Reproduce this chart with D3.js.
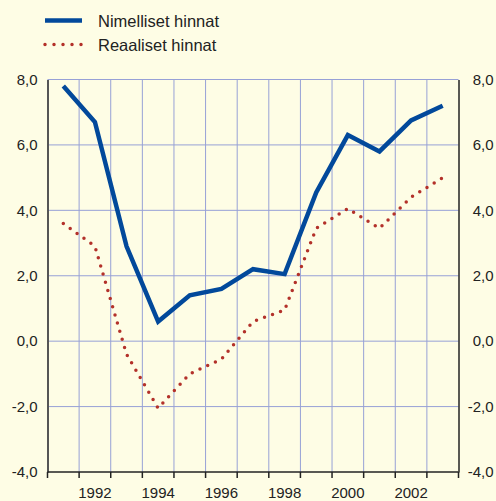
<!DOCTYPE html>
<html>
<head>
<meta charset="utf-8">
<script src="https://cdn.jsdelivr.net/npm/d3@7"></script>
<style>
  html, body { margin: 0; padding: 0; background: #fefde5; }
  svg { display: block; }
  svg text { font-family: 'Liberation Sans', Arial, Helvetica, sans-serif; fill: #222; }
</style>
</head>
<body>
<div id="chart"></div>
<script>
const years = [1991, 1992, 1993, 1994, 1995, 1996, 1997, 1998, 1999, 2000, 2001, 2002, 2003];
const nominal = [7.8, 6.7, 2.9, 0.6, 1.4, 1.6, 2.2, 2.05, 4.55, 6.3, 5.8, 6.75, 7.2];
const real = [3.6, 2.9, -0.4, -2.05, -1.0, -0.55, 0.6, 0.95, 3.45, 4.05, 3.45, 4.4, 5.0];
const yTicks = [-4, -2, 0, 2, 4, 6, 8];
const yearLabels = [1992, 1994, 1996, 1998, 2000, 2002];
const seriesNames = ['Nimelliset hinnat', 'Reaaliset hinnat'];

const props = {
  width: 496,
  height: 501,
  margin: { top: 79.5, right: 37.5, bottom: 29, left: 47.5 },
  blue: '#02499b',
  red: '#b3312a',
  grid: '#97a1d6',
  fontSize: 15,
  font: "'Liberation Sans', Arial, Helvetica, sans-serif",
};

const { margin } = props;
const w = props.width - margin.left - margin.right;
const h = props.height - margin.top - margin.bottom;

const fmt = d => d.toFixed(1).replace('.', ',');

const x = d3.scaleBand().domain(years).range([0, w]).padding(0);
const y = d3.scaleLinear().domain([-4, 8]).range([h, 0]);
const cx = d => x(d) + x.bandwidth() / 2;

const svg = d3.select('#chart')
  .append('svg')
  .attr('width', props.width)
  .attr('height', props.height)
  .attr('font-family', props.font);

svg.append('rect')
  .attr('width', props.width)
  .attr('height', props.height)
  .attr('fill', '#fefde5');

const plot = svg.append('g')
  .attr('transform', `translate(${margin.left},${margin.top})`);

// vertical grid at year boundaries
const bounds = years.slice(1).map(d => x(d));
plot.append('g').attr('class', 'grid x')
  .selectAll('line')
  .data(bounds)
  .join('line')
  .attr('x1', d => d).attr('x2', d => d)
  .attr('y1', 0).attr('y2', h)
  .attr('stroke', props.grid)
  .attr('stroke-width', 1);

// horizontal grid
plot.append('g').attr('class', 'grid y')
  .selectAll('line')
  .data(yTicks.filter(d => d > -4))
  .join('line')
  .attr('x1', 0).attr('x2', w)
  .attr('y1', d => y(d)).attr('y2', d => y(d))
  .attr('stroke', props.grid)
  .attr('stroke-width', 1);

const styleTicks = g => g.selectAll('text')
  .style('font-size', props.fontSize + 'px')
  .style('font-family', props.font)
  .attr('fill', '#222');

// left axis
plot.append('g').attr('class', 'axis left')
  .call(d3.axisLeft(y).tickValues(yTicks).tickFormat(fmt).tickSize(0).tickPadding(10))
  .attr('font-family', props.font)
  .call(g => g.select('.domain').attr('stroke', '#555').attr('stroke-width', 2))
  .call(styleTicks);

// right axis, labels right-aligned near the edge
plot.append('g').attr('class', 'axis right')
  .attr('transform', `translate(${w},0)`)
  .call(d3.axisRight(y).tickValues(yTicks).tickFormat(fmt).tickSize(0).tickPadding(35))
  .attr('font-family', props.font)
  .call(g => g.select('.domain').attr('stroke', '#222').attr('stroke-width', 1.5))
  .call(g => g.selectAll('text').attr('text-anchor', 'end'))
  .call(styleTicks);

// bottom axis: ticks at band edges, labels every other year at band centre
const xEdges = years.map(d => x(d)).concat([w]);
const xAxis = plot.append('g').attr('class', 'axis bottom')
  .attr('transform', `translate(0,${h})`);
xAxis.append('line')
  .attr('x1', 0).attr('x2', w)
  .attr('stroke', '#222').attr('stroke-width', 1.5);
xAxis.selectAll('line.tick')
  .data(xEdges)
  .join('line')
  .attr('class', 'tick')
  .attr('x1', d => d).attr('x2', d => d)
  .attr('y1', 0).attr('y2', 6)
  .attr('stroke', '#222').attr('stroke-width', 1.5);
xAxis.selectAll('text')
  .data(yearLabels)
  .join('text')
  .attr('x', d => cx(d))
  .attr('y', 25.5)
  .attr('text-anchor', 'middle')
  .style('font-size', props.fontSize + 'px')
  .text(d => d);

// lines
const line = d3.line().x((d, i) => cx(years[i])).y(d => y(d));

plot.append('path')
  .datum(real)
  .attr('d', line)
  .attr('fill', 'none')
  .attr('stroke', props.red)
  .attr('stroke-width', 3.5)
  .attr('stroke-linecap', 'round')
  .attr('stroke-dasharray', '0 8.5');

plot.append('path')
  .datum(nominal)
  .attr('d', line)
  .attr('fill', 'none')
  .attr('stroke', props.blue)
  .attr('stroke-width', 4.5)
  .attr('stroke-linejoin', 'miter');

// legend
const legend = svg.append('g').attr('class', 'legend');
const items = legend.selectAll('g')
  .data(seriesNames)
  .join('g')
  .attr('transform', (d, i) => `translate(45,${20.5 + i * 24})`);
items.append('line')
  .attr('x1', 0).attr('x2', 37)
  .attr('stroke', (d, i) => i === 0 ? props.blue : props.red)
  .attr('stroke-width', (d, i) => i === 0 ? 4.5 : 3.5)
  .attr('stroke-linecap', (d, i) => i === 0 ? 'butt' : 'round')
  .attr('stroke-dasharray', (d, i) => i === 0 ? null : '0 9');
items.append('text')
  .attr('x', 53)
  .attr('y', 6)
  .style('font-size', '16.5px')
  .text(d => d);
</script>
</body>
</html>
